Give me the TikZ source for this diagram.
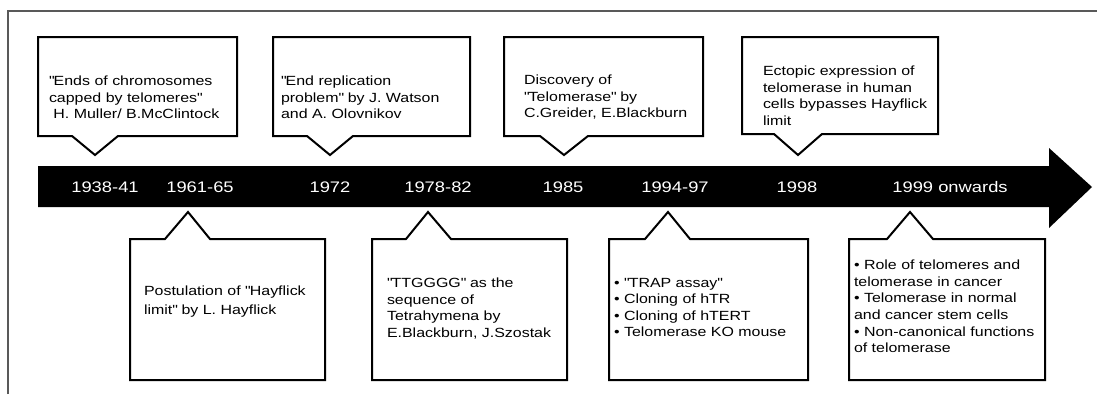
\documentclass[tikz,border=0pt]{standalone}
\usepackage{fontspec}
\setmainfont{Liberation Sans}[FakeStretch=1.2]
\begin{document}
\begin{tikzpicture}[x=1pt, y=-1pt, line width=2pt,
  callout/.style={draw, fill=white, line join=miter},
  note/.style={anchor=north west, inner sep=0pt, align=left,
    font=\fontsize{13.3}{16.6}\selectfont},
  year/.style={text=white, inner sep=0pt, font=\fontsize{15.3}{16}\selectfont}]
\useasboundingbox (0,0) rectangle (1097,394);
% frame
\draw[black!65, line width=1.5pt] (8,394) -- (8,11) -- (1097,11);
% time arrow
\fill (38,166) -- (1049,166) -- (1049,148) -- (1092,187) -- (1049,228) -- (1049,207) -- (38,207) -- cycle;
\node [year] (Y1) at (105,187) {1938-41};
\node [year] (Y2) at (200,187) {1961-65};
\node [year] (Y3) at (330,187) {1972};
\node [year] (Y4) at (438,187) {1978-82};
\node [year] (Y5) at (563,187) {1985};
\node [year] (Y6) at (675,187) {1994-97};
\node [year] (Y7) at (797,187) {1998};
\node [year] (Y8) at (950,187) {1999 onwards};
% callouts above the arrow
\draw[callout] (38,37) -- (237,37) -- (237,136) -- (118,136) -- (95,155) -- (72,136) -- (38,136) -- cycle;
\draw[callout] (273,37) -- (470,37) -- (470,136) -- (353,136) -- (330,155) -- (307,136) -- (273,136) -- cycle;
\draw[callout] (504,37) -- (703,37) -- (703,136) -- (588,136) -- (564,155) -- (540,136) -- (504,136) -- cycle;
\draw[callout] (742,37) -- (938,37) -- (938,134) -- (822,134) -- (798,155) -- (774,134) -- (742,134) -- cycle;
\node [note] (T1) at (48,75) {\textquotedbl Ends of chromosomes\\capped by telomeres\textquotedbl\\\ H. Muller/ B.McClintock};
\node [note] (T2) at (280,75) {\textquotedbl End replication\\problem\textquotedbl\ by J. Watson\\and A. Olovnikov};
\node [note] (T3) at (523,74) {Discovery of\\\textquotedbl Telomerase\textquotedbl\ by\\C.Greider, E.Blackburn};
\node [note] (T4) at (762,65) {Ectopic expression of\\telomerase in human\\cells bypasses Hayflick\\limit};
% callouts below the arrow
\draw[callout] (130,239) -- (165,239) -- (188,212) -- (210,239) -- (325,239) -- (325,380) -- (130,380) -- cycle;
\draw[callout] (372,239) -- (406,239) -- (428,212) -- (451,239) -- (567,239) -- (567,380) -- (372,380) -- cycle;
\draw[callout] (609,239) -- (645,239) -- (668,212) -- (690,239) -- (808,239) -- (808,380) -- (609,380) -- cycle;
\draw[callout] (849,239) -- (887,239) -- (910,212) -- (933,239) -- (1045,239) -- (1045,380) -- (849,380) -- cycle;
\node [note, font=\fontsize{13.3}{18.5}\selectfont] (T5) at (143,285) {Postulation of \textquotedbl Hayflick\\limit\textquotedbl\ by L. Hayflick};
\node [note] (T6) at (386,277) {\textquotedbl TTGGGG\textquotedbl\ as the\\sequence of\\Tetrahymena by\\E.Blackburn, J.Szostak};
\node [note] (T7) at (613,277) {• \textquotedbl TRAP assay\textquotedbl\\• Cloning of hTR\\• Cloning of hTERT\\• Telomerase KO mouse};
\node [note] (T8) at (853,259) {• Role of telomeres and\\telomerase in cancer\\• Telomerase in normal\\and cancer stem cells\\• Non-canonical functions\\of telomerase};
\end{tikzpicture}
\end{document}
